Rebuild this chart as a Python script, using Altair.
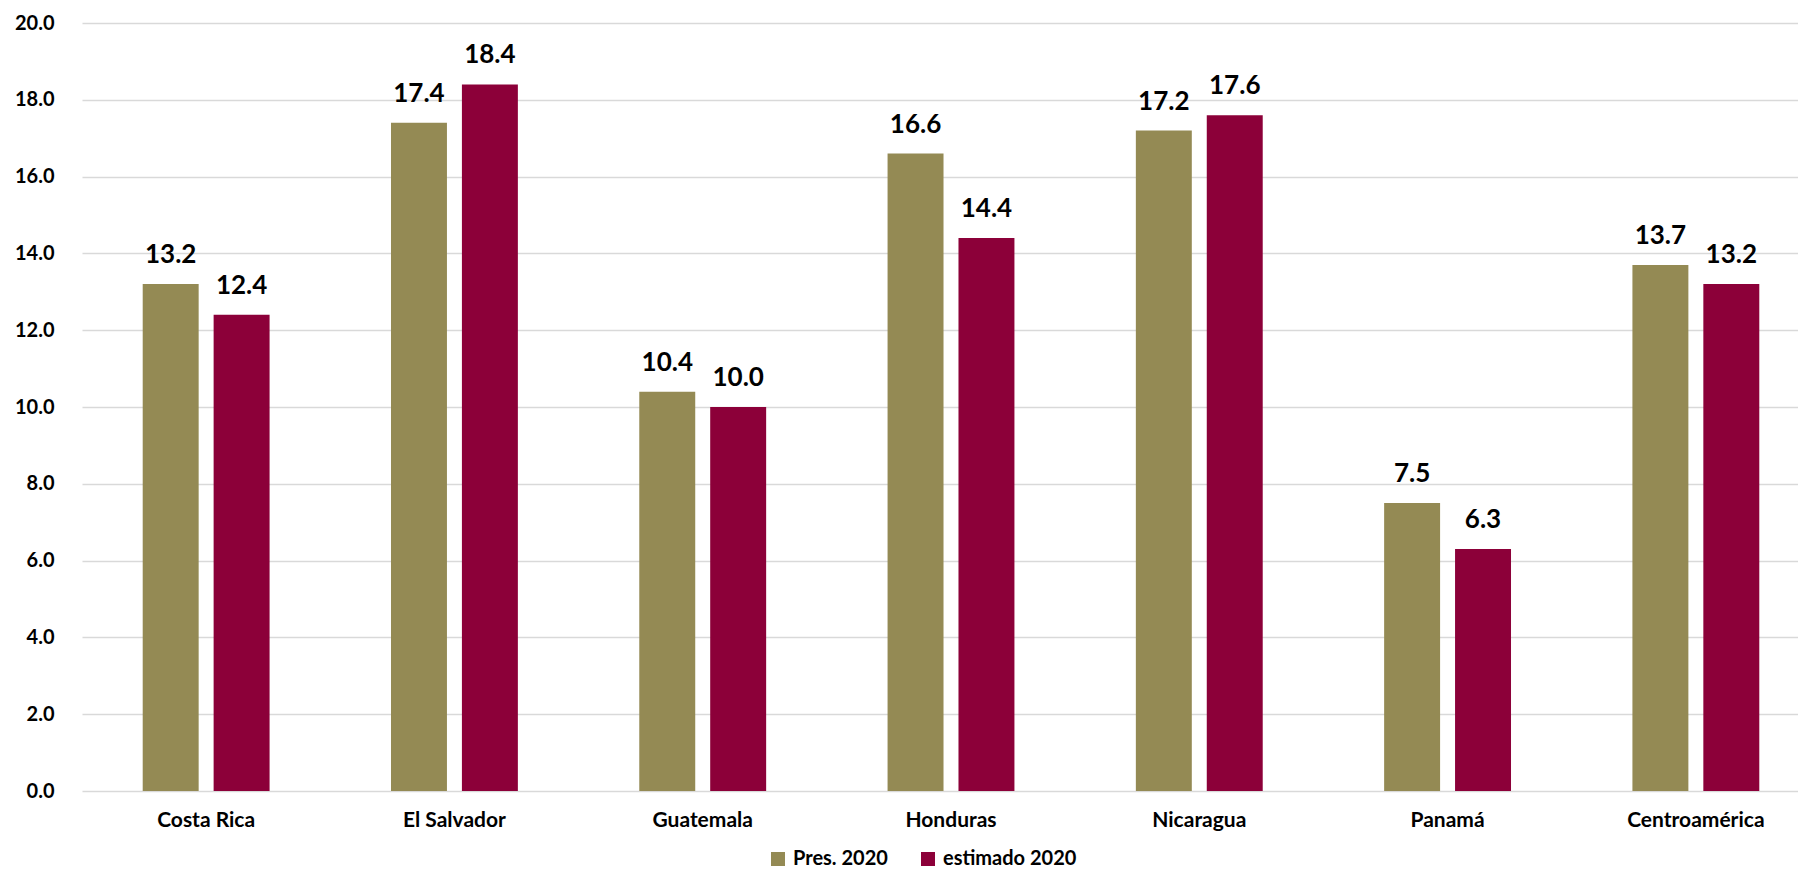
import altair as alt
import pandas as pd

countries = ["Costa Rica", "El Salvador", "Guatemala", "Honduras", "Nicaragua", "Panamá", "Centroamérica"]
series = ["Pres. 2020", "estimado 2020"]
pres_2020 = [13.2, 17.4, 10.4, 16.6, 17.2, 7.5, 13.7]
estimado_2020 = [12.4, 18.4, 10.0, 14.4, 17.6, 6.3, 13.2]
y_ticks = [0, 2, 4, 6, 8, 10, 12, 14, 16, 18, 20]
colors = ["#948A54", "#8C0039"]

rows = []
for c, a, b in zip(countries, pres_2020, estimado_2020):
    rows.append({"pais": c, "serie": series[0], "valor": a})
    rows.append({"pais": c, "serie": series[1], "valor": b})
df = pd.DataFrame(rows)

FONT = "Lato"

x = alt.X("pais:N", sort=countries, title=None,
          scale=alt.Scale(range=[0, 1738], paddingInner=0.489, paddingOuter=0.2445),
          axis=alt.Axis(labelAngle=0, ticks=False, domain=False, labelPadding=18,
                        labelFontSize=21, labelFontWeight="bold", labelColor="#000000",
                        labelFont=FONT))
xo = alt.XOffset("serie:N", sort=series, scale=alt.Scale(paddingInner=0.211, paddingOuter=0))
y = alt.Y("valor:Q", title=None,
          scale=alt.Scale(domain=[0, 20], nice=False),
          axis=alt.Axis(values=y_ticks, format=".1f", ticks=False, domain=False,
                        labelPadding=28, labelFontSize=20, labelFontWeight="bold",
                        labelColor="#000000", labelFont=FONT,
                        gridColor="#D9D9D9", gridWidth=1.5))

bars = alt.Chart(df).mark_bar().encode(
    x=x, xOffset=xo, y=y,
    color=alt.Color("serie:N", sort=series, scale=alt.Scale(domain=series, range=colors),
                    legend=alt.Legend(title=None, orient="none", legendX=686, legendY=826,
                                      direction="horizontal", symbolType="square",
                                      symbolSize=196, symbolStrokeWidth=0, symbolOpacity=1,
                                      labelFontSize=20, labelFontWeight="bold",
                                      labelColor="#000000", labelFont=FONT,
                                      labelOffset=5, columnPadding=30)),
)

labels = alt.Chart(df).mark_text(
    baseline="alphabetic", dy=-21, fontSize=26, fontWeight="bold", font=FONT, color="#000000"
).encode(
    x=alt.X("pais:N", sort=countries),
    xOffset=alt.XOffset("serie:N", sort=series),
    y=alt.Y("valor:Q"),
    text=alt.Text("valor:Q", format=".1f"),
)

chart = alt.layer(bars, labels).properties(
    width=1716, height=768,
    autosize=alt.AutoSizeParams(type="none"),
    padding={"left": 74, "top": 15, "right": 0, "bottom": 85},
).configure_view(stroke=None)

chart.save("out.html", embed_options={"renderer": "svg", "actions": False})
